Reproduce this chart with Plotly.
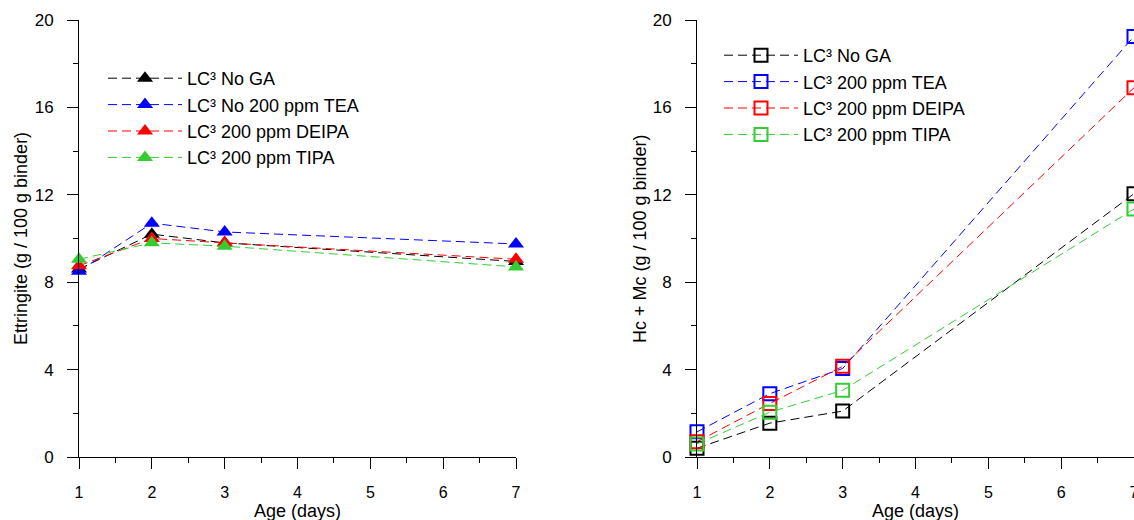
import plotly.graph_objects as go

# Curing ages (days)
days = [1, 2, 3, 7]

# Ettringite content (g / 100 g binder)
ett_no_ga = [8.6, 10.2, 9.8, 8.95]
ett_tea = [8.5, 10.7, 10.3, 9.75]
ett_deipa = [8.75, 10.0, 9.8, 9.05]
ett_tipa = [9.05, 9.8, 9.65, 8.7]

# Hemicarbonate + monocarbonate content (g / 100 g binder)
hcmc_no_ga = [0.4, 1.55, 2.1, 12.05]
hcmc_tea = [1.15, 2.9, 4.05, 19.25]
hcmc_deipa = [0.7, 2.45, 4.15, 16.9]
hcmc_tipa = [0.6, 2.05, 3.05, 11.35]

ett_names = ["LC³ No GA", "LC³ No 200 ppm TEA", "LC³ 200 ppm DEIPA", "LC³ 200 ppm TIPA"]
hcmc_names = ["LC³ No GA", "LC³ 200 ppm TEA", "LC³ 200 ppm DEIPA", "LC³ 200 ppm TIPA"]
colors = ["#000000", "#0000ff", "#ff0000", "#33cc33"]

FONT = "Liberation Sans, Arial, sans-serif"
DASH = "9px,5px"

fig = go.Figure()

for name, vals, col in zip(ett_names, [ett_no_ga, ett_tea, ett_deipa, ett_tipa], colors):
    fig.add_trace(go.Scatter(
        x=days, y=vals, name=name, mode="lines+markers",
        line=dict(color=col, width=1, dash=DASH),
        marker=dict(symbol="triangle-up", size=14, color=col),
        cliponaxis=False, xaxis="x", yaxis="y", legend="legend",
    ))

for name, vals, col in zip(hcmc_names, [hcmc_no_ga, hcmc_tea, hcmc_deipa, hcmc_tipa], colors):
    fig.add_trace(go.Scatter(
        x=days, y=vals, name=name, mode="lines+markers",
        line=dict(color=col, width=1, dash=DASH),
        marker=dict(symbol="square-open", size=13, color=col, line=dict(width=2, color=col)),
        cliponaxis=False, xaxis="x2", yaxis="y2", legend="legend2",
    ))

W, H = 1134, 520
L1, R1 = 79, 516
L2, R2 = 697, 1134
TOP, BOT = 20, 457


def xaxis_style(l, r):
    return dict(
        domain=[l / W, r / W], range=[1, 7], tick0=1, dtick=1,
        showline=True, linecolor="black", linewidth=1, showgrid=False, zeroline=False,
        ticks="outside", ticklen=11, tickwidth=1, tickcolor="black",
        minor=dict(dtick=0.5, ticks="outside", ticklen=5, tickwidth=1, tickcolor="black", showgrid=False),
        tickfont=dict(size=16, color="black", family=FONT), automargin=False,
        ticklabelstandoff=10, ticklabeloverflow="allow",
    )


def yaxis_style(anchor):
    return dict(
        domain=[(H - BOT) / H, (H - TOP) / H], range=[0, 20], tick0=0, dtick=4,
        anchor=anchor,
        showline=True, linecolor="black", linewidth=1, showgrid=False, zeroline=False,
        ticks="outside", ticklen=11, tickwidth=1, tickcolor="black",
        minor=dict(dtick=2, ticks="outside", ticklen=5, tickwidth=1, tickcolor="black", showgrid=False),
        tickfont=dict(size=17, color="black", family=FONT), automargin=False,
        ticklabelstandoff=10, ticklabeloverflow="allow",
    )


xa1 = xaxis_style(L1, R1)
xa1["anchor"] = "y"
xa2 = xaxis_style(L2, R2)
xa2["anchor"] = "y2"

legend_common = dict(
    font=dict(size=18, color="black", family=FONT),
    bgcolor="rgba(0,0,0,0)", borderwidth=0, itemwidth=74,
    xanchor="left", yanchor="top", tracegroupgap=0,
)

title_font = dict(size=18, family=FONT, color="black")

fig.update_layout(
    width=W, height=H,
    margin=dict(l=0, r=0, t=0, b=0),
    paper_bgcolor="white", plot_bgcolor="white",
    font=dict(family=FONT, color="black"),
    xaxis=xa1, yaxis=yaxis_style("x"),
    xaxis2=xa2, yaxis2=yaxis_style("x2"),
    legend=dict(x=103 / W, y=1 - 60 / H, **legend_common),
    legend2=dict(x=719 / W, y=1 - 37 / H, **legend_common),
    annotations=[
        dict(text="Ettringite (g / 100 g binder)", x=21 / W, y=1 - 239 / H, xref="paper", yref="paper",
             xanchor="center", yanchor="middle",
             textangle=-90, showarrow=False, font=title_font),
        dict(text="Hc + Mc (g / 100 g binder)", x=640 / W, y=1 - 239 / H, xref="paper", yref="paper",
             xanchor="center", yanchor="middle",
             textangle=-90, showarrow=False, font=title_font),
        dict(text="Age (days)", x=(L1 + R1) / 2 / W, y=1 - 511 / H, xref="paper", yref="paper",
             xanchor="center", yanchor="middle", showarrow=False, font=title_font),
        dict(text="Age (days)", x=(L2 + R2) / 2 / W, y=1 - 511 / H, xref="paper", yref="paper",
             xanchor="center", yanchor="middle", showarrow=False, font=title_font),
    ],
)

fig.write_html("out.html")
